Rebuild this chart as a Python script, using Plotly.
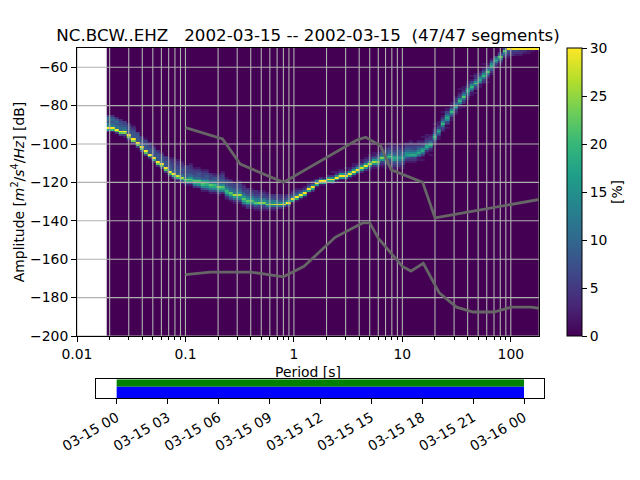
import numpy as np
import plotly.graph_objects as go

# PPSD histogram, one entry per period bin (1/8 octave), 1 dB amplitude bins
# ridge_db = lower edge of the brightest cell in that column
ridge_db = [-92, -92, -93, -94, -94, -96, -98, -100, -102, -104,
            -106, -108, -110, -111, -113, -115, -116, -117, -118, -119,
            -119, -120, -120, -121, -121, -122, -122, -123, -123, -125,
            -126, -127, -127, -129, -130, -130, -131, -131, -131, -132,
            -132, -132, -132, -132, -131, -129, -128, -127, -126, -124,
            -123, -121, -120, -120, -119, -119, -118, -117, -117, -116,
            -115, -114, -113, -112, -111, -110, -110, -108, -108, -107,
            -108, -108, -108, -106, -106, -106, -105, -104, -102, -101,
            -97, -94, -90, -87, -84, -81, -78, -76, -73, -71,
            -69, -67, -65, -63, -60, -57, -55, -52, -51, -51,
            -51, -51, -51, -51, -51, -51]
ridge_percent = [30, 30, 30, 30, 30, 30, 30, 30, 30, 30,
                 30, 30, 30, 30, 30, 30, 30, 28, 26, 24,
                 22, 22, 22, 22, 20, 22, 20, 24, 22, 20,
                 22, 26, 26, 22, 22, 22, 22, 24, 24, 24,
                 26, 28, 28, 30, 30, 30, 30, 30, 30, 30,
                 30, 30, 30, 30, 30, 30, 30, 30, 30, 30,
                 30, 30, 28, 30, 28, 26, 24, 24, 20, 22,
                 18, 16, 16, 16, 18, 18, 18, 18, 18, 20,
                 20, 18, 20, 18, 20, 18, 20, 22, 18, 20,
                 22, 18, 20, 22, 18, 20, 22, 22, 30, 30,
                 30, 30, 30, 30, 30, 30]
# percent in the cells above the ridge, nearest first
above_ridge = [[14, 12, 8, 10, 10, 6], [12, 10, 8, 10, 8, 4], [12, 10, 8, 10, 8, 4], [10, 10, 8, 8, 6, 4],
               [12, 10, 8, 6, 6], [8, 8, 8, 8, 6, 4], [8, 8, 8, 8, 6, 4, 2], [8, 8, 8, 8, 6],
               [10, 8, 8, 6, 4], [8, 8, 8, 6, 6, 2], [8, 8, 8, 6, 6, 4], [8, 8, 8, 8, 6, 4],
               [8, 8, 8, 8, 6, 4], [10, 8, 8, 6, 6, 2], [8, 8, 8, 6, 6, 4], [10, 8, 8, 6, 6, 4, 2],
               [10, 8, 6, 6, 6, 4, 4, 2], [10, 8, 8, 6, 6, 4, 4, 2], [12, 8, 6, 8, 6, 4, 4, 2], [14, 8, 8, 6, 6, 6, 4],
               [16, 10, 8, 6, 6, 4, 4, 2], [16, 10, 8, 6, 6, 4, 2], [14, 10, 8, 8, 6, 4, 2], [16, 10, 8, 6, 6, 4, 2],
               [16, 10, 8, 8, 6, 4, 2], [14, 10, 8, 6, 6, 4], [14, 10, 8, 8, 4, 2], [12, 10, 8, 8, 6, 4, 2],
               [14, 10, 8, 8, 6, 6, 4, 2], [14, 10, 8, 8, 6, 4, 2], [12, 10, 8, 6, 6, 4, 2], [12, 10, 8, 6, 6, 4],
               [14, 10, 8, 6, 6, 4, 2], [16, 12, 8, 6, 4, 4, 2], [16, 12, 8, 6, 6, 4], [16, 12, 8, 6, 4, 2],
               [14, 12, 8, 6, 4, 4], [14, 12, 8, 6, 4, 2], [14, 12, 6, 6, 4, 2], [14, 12, 8, 6, 4, 2],
               [14, 12, 8, 6, 4], [14, 12, 6, 6, 4], [14, 8, 6, 4, 4], [16, 8, 6, 4, 2],
               [14, 8, 6, 4], [12, 6, 4, 2], [12, 6, 4, 2], [12, 6, 2], [12, 4, 2], [10, 4, 2],
               [10, 4, 2], [12, 4], [12, 4], [14, 2], [16, 4], [14, 4, 0, 2], [16, 4, 2], [16, 4, 2],
               [14, 4, 0, 2], [16, 4, 2], [16, 6, 2, 2], [16, 6, 2], [16, 6, 2, 2], [16, 6, 4, 2],
               [16, 6, 4, 2, 2], [16, 8, 4, 2, 2], [16, 10, 6, 4, 2], [16, 10, 8, 4, 2, 2],
               [16, 10, 6, 6, 4, 2], [14, 10, 8, 6, 4, 2, 2], [16, 10, 8, 6, 4, 4, 2], [14, 10, 8, 8, 6, 4, 2],
               [14, 10, 10, 6, 4, 2, 2], [14, 10, 8, 6, 4, 2], [14, 10, 8, 6, 4, 4, 2], [14, 10, 6, 6, 4, 2],
               [14, 10, 8, 4, 4, 2], [16, 8, 6, 4, 2, 0, 2], [16, 8, 6, 4, 2, 2], [14, 8, 4, 4, 2],
               [14, 6, 4, 4, 2, 0, 2], [14, 6, 4, 2, 2], [14, 8, 4, 2, 0, 2], [14, 8, 6, 2, 2],
               [14, 8, 4, 2, 2], [14, 8, 4, 4, 2], [14, 6, 4, 2, 0, 2], [14, 8, 4, 2, 2],
               [14, 6, 4, 2, 2], [14, 8, 6, 2, 0, 2], [14, 8, 4, 4, 2], [14, 8, 4, 2],
               [14, 8, 4, 2, 0, 2], [14, 8, 4, 2], [14, 8, 4, 2], [14, 8], [10, 4], [8],
               [], [], [], [], [], [], [], []]
# percent in the cells below the ridge, nearest first
below_ridge = [[16, 4], [20, 4], [22, 4], [22, 6], [24, 6, 2], [24, 8, 2], [24, 6], [22, 6],
               [22, 6], [22, 6], [20, 4], [20, 4], [22, 4], [22, 6], [22, 6], [20, 4],
               [20, 6], [20, 6, 2], [18, 8, 2], [18, 8, 2], [18, 8, 2], [18, 12, 4], [18, 14, 6],
               [20, 14, 6, 2], [18, 14, 8, 2], [18, 12, 6, 2], [18, 14, 6, 2], [18, 12, 6, 2], [18, 12, 4],
               [18, 10, 4, 2], [18, 10, 6, 2], [16, 10, 4, 2], [16, 12, 6, 2], [18, 12, 6, 2], [18, 10, 6, 4],
               [16, 8, 4, 2], [16, 8, 4, 2], [16, 6, 4, 2], [14, 6, 4, 2], [12, 6, 2], [12, 4, 2],
               [12, 4, 2], [12, 4], [10, 2], [18, 4], [18, 2], [18, 2], [18, 2], [18, 2], [18, 2],
               [18, 4], [18, 2], [20, 2], [18, 2], [18, 2], [18, 4], [16, 2], [16, 2], [16, 2], [16, 2],
               [16, 2], [16, 2], [16, 4], [16, 4], [16, 4, 2], [16, 4, 2], [16, 6, 2], [16, 6, 4, 2],
               [14, 8, 6, 2, 2], [16, 8, 6, 4, 2], [16, 8, 6, 4, 2, 2], [12, 8, 6, 4, 2], [12, 6, 6, 2, 2],
               [14, 8, 4, 2], [14, 6, 4, 2], [14, 6, 4, 2], [12, 6, 2, 2], [12, 6, 2, 0, 2], [12, 4, 2],
               [12, 4, 2, 0, 2], [14, 6, 4, 2], [12, 6, 2, 2], [12, 6, 4, 2], [14, 6, 4, 0, 2],
               [12, 6, 2, 2], [12, 6, 4, 2], [14, 6, 2, 2], [12, 6, 4, 0, 2], [12, 8, 4, 2], [14, 6, 2, 2],
               [12, 6, 4, 0, 2], [14, 6, 2, 2], [12, 6, 4, 2], [12, 6, 2, 0, 2], [12, 8, 4, 2], [14, 6, 4, 2],
               [14, 8, 4, 2], [14, 8, 4], [8, 6, 4, 2], [6, 4, 4], [6, 4, 2], [4, 4, 2],
               [4, 2], [2, 2], [2], []]

# Peterson noise models
nhnm_period = [0.10, 0.22, 0.32, 0.80, 3.80, 4.60, 6.30, 7.90, 15.40, 20.00, 354.80]
nhnm_db = [-91.5, -97.4, -110.5, -120.0, -98.0, -96.5, -101.0, -113.5, -120.0, -138.5, -126.0]
nlnm_period = [0.10, 0.17, 0.40, 0.80, 1.24, 2.40, 4.30, 5.00, 6.00, 10.00, 12.00, 15.60,
               21.90, 31.60, 45.00, 70.00, 101.00, 154.00, 328.00]
nlnm_db = [-168.0, -166.7, -166.7, -169.2, -163.7, -148.6, -141.1, -141.1, -149.0, -163.8, -166.2, -162.1,
           -177.5, -185.0, -187.5, -187.5, -185.0, -185.0, -187.5]

x_major = [0.01, 0.1, 1, 10, 100]
x_labels = ['0.01', '0.1', '1', '10', '100']
x_minor = [m * d for d in [0.01, 0.1, 1, 10, 100] for m in range(2, 10) if m * d < 182]
y_ticks = [-60, -80, -100, -120, -140, -160, -180, -200]
cbar_ticks = [0, 5, 10, 15, 20, 25, 30]

seg_start = '2002-03-15 00:00'
seg_length_ms = 86400000

FONT = 'DejaVu Sans'
# page body has an 8 px margin, so the figure is 8 px smaller and everything is measured from there
PAGE = 8
W, H = 632, 472


def fx(px):
    return (px - PAGE) / W


def fy(py):
    return 1 - (py - PAGE) / H


# histogram grid from the lists above
period_edges = np.geomspace(0.0188, 182, len(ridge_db) + 1)
db_edges = np.arange(-200, -49)
hist = np.zeros((150, len(ridge_db)))
for col, r in enumerate(ridge_db):
    hist[r + 200, col] = ridge_percent[col]
    for k, v in enumerate(above_ridge[col]):
        if r + 201 + k < 150:
            hist[r + 201 + k, col] = v
    for k, v in enumerate(below_ridge[col]):
        hist[r + 199 - k, col] = v

fig = go.Figure()

fig.add_trace(go.Heatmap(x=period_edges, y=db_edges, z=hist, colorscale='Viridis', zmin=0, zmax=30, zsmooth='fast',
                         colorbar=dict(x=fx(566.7), xanchor='left', xpad=0, y=fy(192), yanchor='middle', ypad=0,
                                       len=288 / H, lenmode='fraction', thickness=15, thicknessmode='pixels',
                                       outlinewidth=1, outlinecolor='black', tickvals=cbar_ticks,
                                       ticks='outside', ticklen=5, tickwidth=1, tickcolor='black',
                                       tickfont=dict(family=FONT, size=13.9, color='black'),
                                       title=dict(text='[%]', side='right',
                                                  font=dict(family=FONT, size=13.9, color='black')))))

# grid has to sit on top of the heatmap, so it is drawn as traces
grid_x, grid_xy = [], []
for t in x_major + x_minor:
    grid_x += [t, t, None]
    grid_xy += [-200, -50, None]
fig.add_trace(go.Scatter(x=grid_x, y=grid_xy, mode='lines', line=dict(color='#b0b0b0', width=1.1), hoverinfo='skip'))
grid_y, grid_yx = [], []
for t in y_ticks:
    grid_y += [t, t, None]
    grid_yx += [0.01, 182, None]
fig.add_trace(go.Scatter(x=grid_yx, y=grid_y, mode='lines', line=dict(color='#b0b0b0', width=1.1), hoverinfo='skip'))

fig.add_trace(go.Scatter(x=nhnm_period, y=nhnm_db, mode='lines', line=dict(color='#666666', width=2.8)))
fig.add_trace(go.Scatter(x=nlnm_period, y=nlnm_db, mode='lines', line=dict(color='#666666', width=2.8)))

# data coverage bar below the main panel
fig.add_trace(go.Bar(x=[seg_length_ms], y=[0.805], base=[seg_start], width=[0.39], orientation='h',
                     marker=dict(color='green', line=dict(width=0)), xaxis='x2', yaxis='y2'))
fig.add_trace(go.Bar(x=[seg_length_ms], y=[0.305], base=[seg_start], width=[0.61], orientation='h',
                     marker=dict(color='blue', line=dict(width=0)), xaxis='x2', yaxis='y2'))

fig.update_layout(
    width=W, height=H, margin=dict(l=0, r=0, t=0, b=0, autoexpand=False),
    paper_bgcolor='white', plot_bgcolor='white', showlegend=False, barmode='overlay',
    font=dict(family=FONT, size=13.9, color='black'),
    title=dict(text='NC.BCW..EHZ\u00a0\u00a0\u00a02002-03-15 -- 2002-03-15\u00a0\u00a0(47/47 segments)',
               x=fx(308), xanchor='center', y=fy(35), yanchor='middle',
               font=dict(family=FONT, size=16.7, color='black')),
    xaxis=dict(type='log', domain=[fx(77), fx(539)], range=[-2, np.log10(182)], anchor='y',
               tickmode='array', tickvals=x_major, ticktext=x_labels, ticks='outside', ticklen=5, tickwidth=1,
               tickcolor='black', showgrid=False, zeroline=False, showline=True, linecolor='black', linewidth=1,
               mirror=True, minor=dict(ticks='outside', ticklen=3, tickwidth=1, tickcolor='black',
                                       tickmode='array', tickvals=x_minor, showgrid=False),
               title=dict(text='Period [s]', standoff=6, font=dict(family=FONT, size=13.9))),
    yaxis=dict(domain=[fy(336), fy(48)], range=[-200, -50], anchor='x',
               tickmode='array', tickvals=y_ticks, ticks='outside', ticklen=5, tickwidth=1, tickcolor='black',
               showgrid=False, zeroline=False, showline=True, linecolor='black', linewidth=1, mirror=True,
               title=dict(text='Amplitude [<i>m</i><sup>2</sup>/<i>s</i><sup>4</sup>/<i>Hz</i>] [dB]', standoff=2,
                          font=dict(family=FONT, size=13.9))),
    xaxis2=dict(type='date', domain=[fx(96.3), fx(544.4)], range=['2002-03-14 22:48', '2002-03-16 01:12'],
                anchor='y2', tick0='2002-03-15 00:00', dtick=10800000, tickformat='%m-%d %H', tickangle=-30,
                ticks='outside', ticklen=5, tickwidth=1, tickcolor='black', showgrid=False, zeroline=False,
                showline=True, linecolor='black', linewidth=1, mirror=True),
    yaxis2=dict(domain=[fy(398.4), fy(379.3)], range=[0, 1], anchor='x2', showticklabels=False,
                ticks='', showgrid=False, zeroline=False, showline=True, linecolor='black', linewidth=1,
                mirror=True),
)

fig.write_html("out.html")
